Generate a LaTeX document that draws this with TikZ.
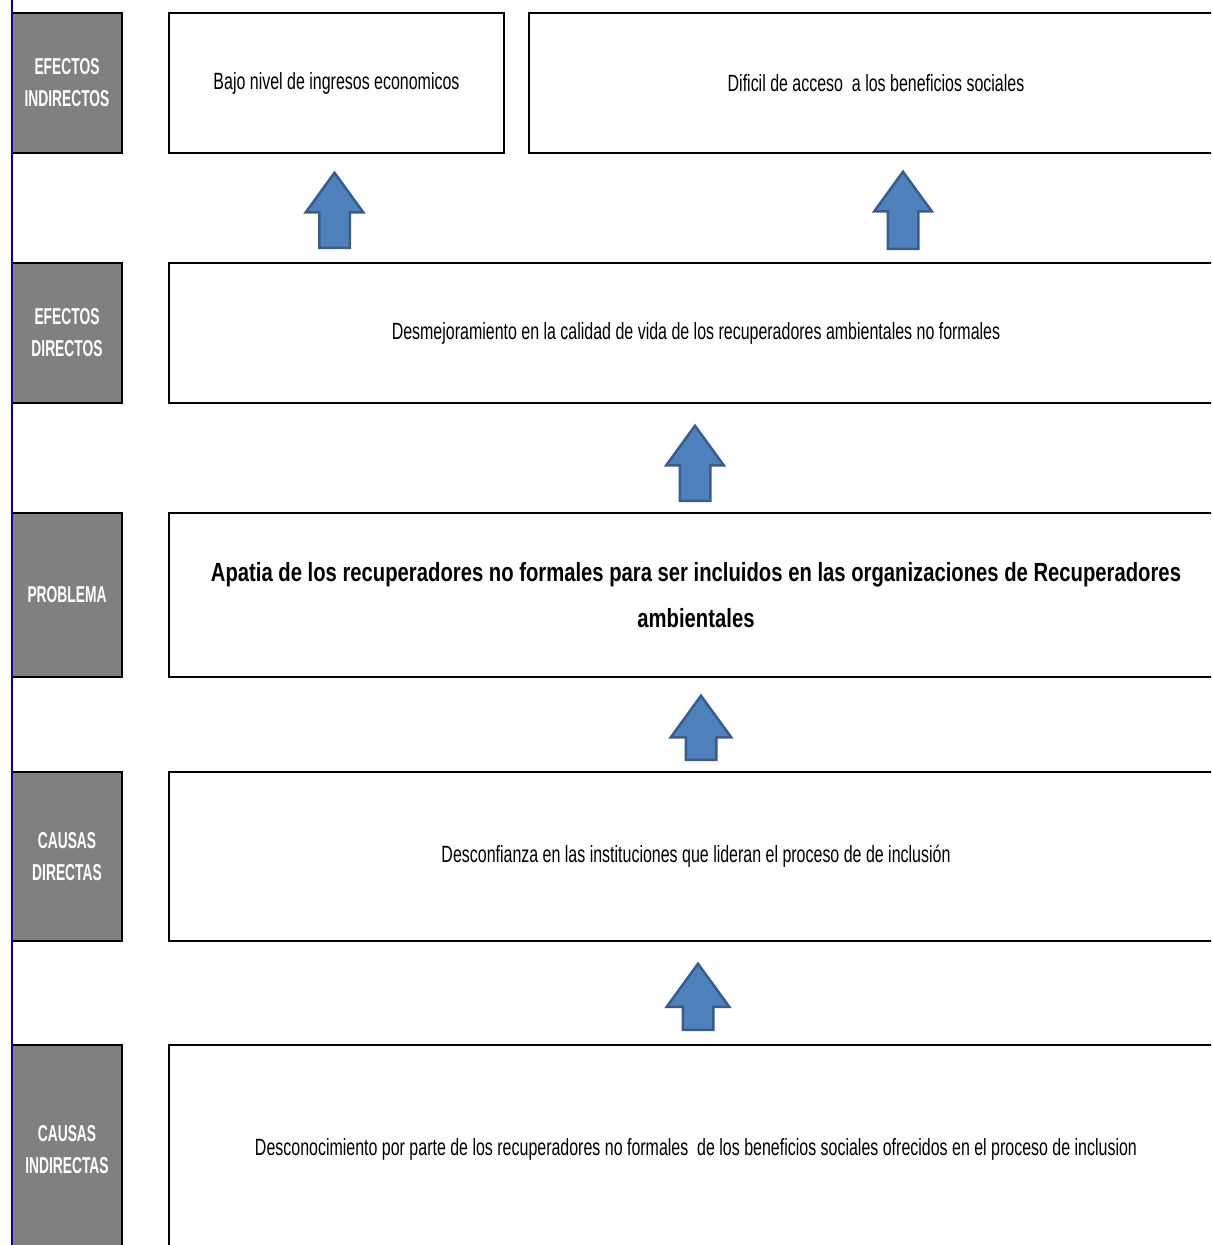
\documentclass[tikz,border=0pt]{standalone}
\usepackage{fontspec}
\setmainfont{Liberation Sans}[FakeStretch=0.82]
\newfontfamily\boxfont{Liberation Sans}[FakeStretch=0.68]
\newfontfamily\lblfont{Liberation Sans}[FakeStretch=0.6]
\newfontfamily\probfont{Liberation Sans}[FakeStretch=0.77]
\usepackage{xcolor}
\usetikzlibrary{positioning, shapes.arrows}
\definecolor{labelgray}{HTML}{808080}
\definecolor{arrowfill}{HTML}{4F81BD}
\definecolor{arrowline}{HTML}{385D8A}
\definecolor{sideblue}{HTML}{0000D0}

\begin{document}
\begin{tikzpicture}[x=1pt, y=-1pt,
  lbl/.style={draw, line width=2.8pt, fill=labelgray, text=white, anchor=north west, outer sep=0pt, inner sep=0pt, minimum width=110pt, align=center, font=\lblfont\fontsize{23}{32}\selectfont\bfseries},
  box/.style={draw, line width=2.8pt, anchor=north west, outer sep=0pt, inner sep=0pt, align=center, font=\boxfont\fontsize{23.5}{28}\selectfont},
  uparrow/.style={single arrow, draw=arrowline, line width=2.5pt, fill=arrowfill, rotate=90, anchor=tail, inner sep=14pt, single arrow head extend=13.5pt, single arrow tip angle=72, minimum height=75pt}
]
  \useasboundingbox (0,0) rectangle (1211,1245);
  \clip (0,0) rectangle (1211,1245);

  % row labels
  \node[lbl, minimum height=140pt] (efind) at (12,13) {EFECTOS\\INDIRECTOS};
  \node[lbl, minimum height=140pt] (efdir) at (12,263) {EFECTOS\\DIRECTOS};
  \node[lbl, minimum height=164pt] (prob) at (12,513) {PROBLEMA};
  \node[lbl, minimum height=169pt] (cadir) at (12,772) {CAUSAS\\DIRECTAS};
  \node[lbl, minimum height=210pt] (caind) at (12,1045) {CAUSAS\\INDIRECTAS};
  \draw[sideblue, line width=2pt] (12,0) -- (12,1245);

  % tree boxes
  \node[box, minimum width=335pt, minimum height=140pt] (ingresos) at (169,13) {Bajo nivel de ingresos economicos};
  \node[box, minimum width=694pt, minimum height=140pt] (acceso) at (529,13) {Dificil de acceso \ a los beneficios sociales};
  \node[box, minimum width=1054pt, minimum height=140pt] (calidad) at (169,263) {Desmejoramiento en la calidad de vida de los recuperadores ambientales no formales};
  \node[box, minimum width=1054pt, minimum height=164pt, font=\probfont\fontsize{26.3}{46}\selectfont\bfseries] (apatia) at (169,513) {Apatia de los recuperadores no formales para ser incluidos en las organizaciones de Recuperadores\\ambientales};
  \node[box, minimum width=1054pt, minimum height=169pt] (desconf) at (169,772) {Desconfianza en las instituciones que lideran el proceso de de inclusión};
  \node[box, minimum width=1054pt, minimum height=208pt] (descon) at (169,1045) {Desconocimiento por parte de los recuperadores no formales \ de los beneficios sociales ofrecidos en el proceso de inclusion};

  % block arrows
  \node[uparrow] (up1) at (334.5,249) {};
  \node[uparrow, minimum height=77pt] (up2) at (903,250) {};
  \node[uparrow] (up3) at (695,502) {};
  \node[uparrow, minimum height=64pt, single arrow head extend=15pt] (up4) at (701,761) {};
  \node[uparrow, minimum height=66pt, single arrow head extend=16pt] (up5) at (698,1031) {};
\end{tikzpicture}
\end{document}
